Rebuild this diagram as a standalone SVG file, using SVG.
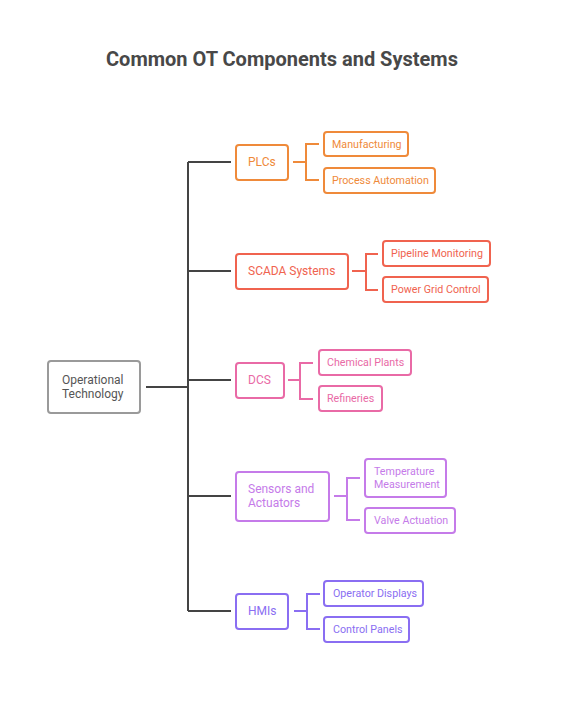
<svg xmlns="http://www.w3.org/2000/svg" width="564" height="727" viewBox="0 0 564 727">
<style>
text{font-family:Roboto,"Liberation Sans",sans-serif}
.title{font-size:20px;font-weight:bold;fill:#484848}
.box{fill:#fff;stroke-width:2}
.l1{font-size:12px}
.l2{font-size:10.7px}
.c{fill:none;stroke-width:2}
.o{stroke:#ef8a3a}.ot{fill:#ef8a3a}
.r{stroke:#f0634f}.rt{fill:#f0634f}
.p{stroke:#e96aa6}.pt{fill:#e96aa6}
.v{stroke:#c57be9}.vt{fill:#c57be9}
.b{stroke:#8a6ef2}.bt{fill:#8a6ef2}
</style>
<rect width="564" height="727" fill="#fff"/>
<text class="title" x="282" y="66" text-anchor="middle">Common OT Components and Systems</text>
<g id="connectors">
<path class="c" stroke="#444" d="M146 387H188M188 162V611M188 162H231M188 271H231M188 380H231M188 496H231M188 611H231"/>
<path class="c o" d="M293 162H306M319 144H306V180H319"/>
<path class="c r" d="M352 271H366M378 254H366V290H378"/>
<path class="c p" d="M288 380H300M313 363H300V399H313"/>
<path class="c v" d="M334 496H347M360 478H347V520H360"/>
<path class="c b" d="M294 611H307M320 594H307V629H320"/>
</g>
<g id="root"><rect class="box" x="48" y="361" width="92" height="52" rx="3" stroke="#9a9a9a"/><text class="l1" x="62" y="384" fill="#555">Operational</text><text class="l1" x="62" y="398" fill="#555">Technology</text></g>
<g id="plcs"><rect class="box o" x="236" y="145" width="52" height="35" rx="3"/><text class="l1 ot" x="248" y="166">PLCs</text></g>
<g id="manufacturing"><rect class="box o" x="324" y="132" width="84" height="24" rx="3"/><text class="l2 ot" x="332" y="148">Manufacturing</text></g>
<g id="process-automation"><rect class="box o" x="324" y="168" width="111" height="25" rx="3"/><text class="l2 ot" x="332" y="184">Process Automation</text></g>
<g id="scada"><rect class="box r" x="236" y="254" width="112" height="35" rx="3"/><text class="l1 rt" x="248" y="275">SCADA Systems</text></g>
<g id="pipeline"><rect class="box r" x="383" y="241" width="107" height="25" rx="3"/><text class="l2 rt" x="391" y="257">Pipeline Monitoring</text></g>
<g id="power-grid"><rect class="box r" x="383" y="277" width="105" height="25" rx="3"/><text class="l2 rt" x="391" y="293">Power Grid Control</text></g>
<g id="dcs"><rect class="box p" x="236" y="363" width="48" height="35" rx="3"/><text class="l1 pt" x="248" y="384">DCS</text></g>
<g id="chemical"><rect class="box p" x="319" y="350" width="92" height="25" rx="3"/><text class="l2 pt" x="327" y="366">Chemical Plants</text></g>
<g id="refineries"><rect class="box p" x="319" y="386" width="63" height="25" rx="3"/><text class="l2 pt" x="327" y="402">Refineries</text></g>
<g id="sensors"><rect class="box v" x="236" y="472" width="93" height="49" rx="3"/><text class="l1 vt" x="248" y="493">Sensors and</text><text class="l1 vt" x="248" y="507">Actuators</text></g>
<g id="temperature"><rect class="box v" x="365" y="459" width="81" height="38" rx="3"/><text class="l2 vt" x="374" y="475">Temperature</text><text class="l2 vt" x="374" y="488">Measurement</text></g>
<g id="valve"><rect class="box v" x="365" y="508" width="90" height="25" rx="3"/><text class="l2 vt" x="374" y="524">Valve Actuation</text></g>
<g id="hmis"><rect class="box b" x="236" y="594" width="52" height="35" rx="3"/><text class="l1 bt" x="248" y="615">HMIs</text></g>
<g id="operator"><rect class="box b" x="324" y="581" width="99" height="25" rx="3"/><text class="l2 bt" x="333" y="597">Operator Displays</text></g>
<g id="control"><rect class="box b" x="324" y="617" width="85" height="25" rx="3"/><text class="l2 bt" x="333" y="633">Control Panels</text></g>
</svg>
